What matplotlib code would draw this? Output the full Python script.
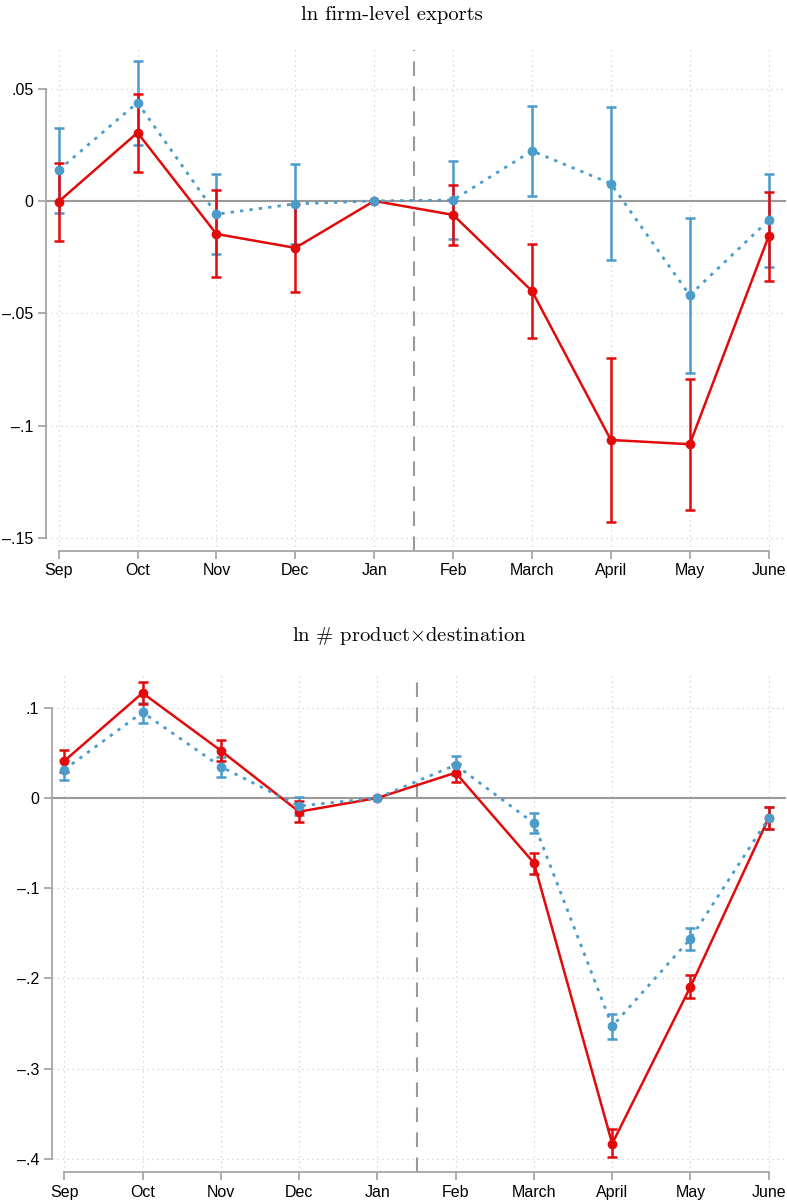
import matplotlib
matplotlib.use("Agg")
import matplotlib.pyplot as plt
import numpy as np

# months on the x axis
months = ["Sep", "Oct", "Nov", "Dec", "Jan", "Feb", "March", "April", "May", "June"]

# panel 1: ln firm-level exports
exp_red = [-0.0003, 0.0304, -0.0147, -0.0209, 0.0, -0.0062, -0.0401, -0.1064, -0.1083, -0.0157]
exp_red_lo = [-0.0177, 0.0129, -0.0340, -0.0405, 0.0, -0.0196, -0.0611, -0.1428, -0.1377, -0.0355]
exp_red_hi = [0.0170, 0.0477, 0.0048, -0.0013, 0.0, 0.0070, -0.0190, -0.0698, -0.0791, 0.0040]
exp_blue = [0.0137, 0.0438, -0.0059, -0.0013, 0.0, 0.0004, 0.0223, 0.0077, -0.0420, -0.0086]
exp_blue_lo = [-0.0052, 0.0251, -0.0237, -0.0190, 0.0, -0.0168, 0.0024, -0.0261, -0.0764, -0.0294]
exp_blue_hi = [0.0326, 0.0625, 0.0119, 0.0165, 0.0, 0.0177, 0.0422, 0.0417, -0.0076, 0.0122]

# panel 2: ln # product x destination
pd_red = [0.0410, 0.1164, 0.0525, -0.0152, 0.0, 0.0280, -0.0720, -0.3832, -0.2092, -0.0220]
pd_red_lo = [0.0284, 0.1040, 0.0410, -0.0270, 0.0, 0.0177, -0.0839, -0.3984, -0.2220, -0.0340]
pd_red_hi = [0.0536, 0.1286, 0.0640, -0.0034, 0.0, 0.0380, -0.0606, -0.3670, -0.1959, -0.0100]
pd_blue = [0.0314, 0.0950, 0.0347, -0.0089, 0.0, 0.0366, -0.0280, -0.2531, -0.1560, -0.0222]
pd_blue_lo = [0.0200, 0.0835, 0.0236, -0.0190, 0.0, 0.0260, -0.0390, -0.2668, -0.1680, -0.0340]
pd_blue_hi = [0.0420, 0.1050, 0.0458, 0.0015, 0.0, 0.0470, -0.0170, -0.2395, -0.1438, -0.0096]

exp_ticks = [0.05, 0, -0.05, -0.1, -0.15]
exp_ticklabels = [".05", "0", "\u2013.05", "\u2013.1", "\u2013.15"]
pd_ticks = [0.1, 0, -0.1, -0.2, -0.3, -0.4]
pd_ticklabels = [".1", "0", "\u2013.1", "\u2013.2", "\u2013.3", "\u2013.4"]

RED = "#e20a0a"
BLUE = "#4b9bcb"
GRAY = "#a6a6a6"

plt.rcParams["mathtext.fontset"] = "cm"
plt.rcParams["font.family"] = ["Liberation Sans", "DejaVu Sans"]

W, H = 787, 1201
fig = plt.figure(figsize=(W / 100, H / 100), dpi=100)


def panel(rect, red, rlo, rhi, blue, blo, bhi, ticks, ticklabels, ylim):
    ax = fig.add_axes(rect)
    x = np.arange(len(months))
    ax.set_xlim(-0.16, 9.22)
    ax.set_ylim(*ylim)

    ax.grid(True, color="#cfcfcf", linestyle=(0, (1, 3)), linewidth=0.9)
    ax.axhline(0, color="#9a9a9a", lw=1.5, zorder=2)
    ax.axvline(4.5, color="#9a9a9a", lw=1.5, ls=(0, (7, 5)), zorder=2)

    # no error bar at Jan (reference month)
    m = np.array(rhi) != np.array(rlo)
    red, rlo, rhi = np.array(red), np.array(rlo), np.array(rhi)
    blue, blo, bhi = np.array(blue), np.array(blo), np.array(bhi)
    ax.errorbar(x[m], blue[m], yerr=[blue[m] - blo[m], bhi[m] - blue[m]], fmt="none",
                ecolor=BLUE, elinewidth=1.8, capsize=3.5, capthick=1.8, zorder=3)
    ax.errorbar(x[m], red[m], yerr=[red[m] - rlo[m], rhi[m] - red[m]], fmt="none",
                ecolor=RED, elinewidth=1.8, capsize=3.5, capthick=1.8, zorder=3)
    ax.plot(x, red, color=RED, lw=1.8, marker="o", ms=6, zorder=4)
    ax.plot(x, blue, color=BLUE, lw=2.0, ls=(0, (1.2, 2.2)), marker="o", ms=6, zorder=5)

    ax.set_xticks(x)
    ax.set_xticklabels(months, fontsize=11.5)
    ax.set_yticks(ticks)
    ax.set_yticklabels(ticklabels, fontsize=11.5)
    ax.tick_params(axis="both", color=GRAY, width=1.3, length=6, pad=3)

    for s in ["top", "right"]:
        ax.spines[s].set_visible(False)
    for s in ["left", "bottom"]:
        ax.spines[s].set_color(GRAY)
        ax.spines[s].set_linewidth(1.3)
    ax.spines["bottom"].set_bounds(0, 9)
    ax.spines["left"].set_bounds(min(ticks), max(ticks))
    return ax


def rect(left, top, bottom, right=786):
    return [left / W, 1 - bottom / H, (right - left) / W, (bottom - top) / H]


ax1 = panel(rect(46, 50, 550.7),
            exp_red, exp_red_lo, exp_red_hi, exp_blue, exp_blue_lo, exp_blue_hi,
            exp_ticks, exp_ticklabels, (-0.1557, 0.0672))
ax2 = panel(rect(51.7, 671.7, 1172.3),
            pd_red, pd_red_lo, pd_red_hi, pd_blue, pd_blue_lo, pd_blue_hi,
            pd_ticks, pd_ticklabels, (-0.415, 0.14))

fig.text(392 / W, 1 - 20 / H, "ln firm-level exports", family="cmr10",
         fontsize=14.8, ha="center", va="baseline")
fig.text(409 / W, 1 - 641 / H, r"ln $\#$ product$\times$destination", family="cmr10",
         fontsize=14.8, ha="center", va="baseline")

fig.savefig("out.png", dpi=100)
